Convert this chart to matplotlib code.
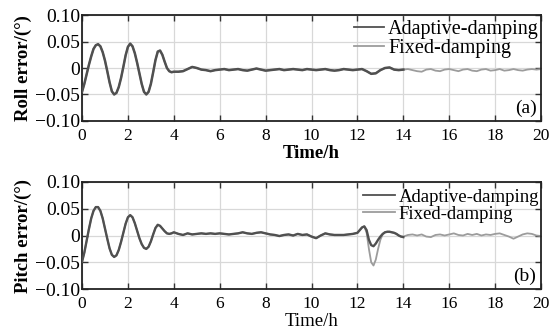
import numpy as np
import matplotlib
matplotlib.use("Agg")
import matplotlib.pyplot as plt

plt.rcParams['font.family'] = ['Liberation Serif', 'DejaVu Serif']

# ---------------- data ----------------
# Roll error, transient part (0-4 h, step 0.1 h)
roll_t1 = [round(0.1 * i, 1) for i in range(41)]
roll_v1 = [-0.045, -0.030, -0.012, 0.006, 0.022, 0.036, 0.043, 0.045, 0.041, 0.030,
           0.014, -0.006, -0.027, -0.044, -0.050, -0.047, -0.036, -0.019, 0.002, 0.024,
           0.040, 0.046, 0.041, 0.028, 0.010, -0.010, -0.030, -0.045, -0.050, -0.045,
           -0.030, -0.008, 0.015, 0.031, 0.033, 0.025, 0.012, 0.000, -0.006, -0.008,
           -0.007]
# Roll error, adaptive-damping steady part (4.2-14 h, step 0.2 h)
roll_t2 = [round(4.2 + 0.2 * i, 1) for i in range(50)]
roll_v2 = [-0.007, -0.006, -0.002, 0.002, 0.000, -0.003, -0.004, -0.006, -0.004, -0.003,
           -0.002, -0.004, -0.003, -0.002, -0.004, -0.005, -0.003, -0.001, -0.003, -0.005,
           -0.004, -0.003, -0.002, -0.004, -0.003, -0.002, -0.003, -0.004, -0.002, -0.003,
           -0.004, -0.003, -0.002, -0.004, -0.005, -0.004, -0.002, -0.003, -0.004, -0.003,
           -0.002, -0.006, -0.011, -0.010, -0.004, 0.000, 0.001, -0.003, -0.004, -0.003]
# Roll error, fixed-damping after 14 h
roll_t3 = [round(14.2 + 0.2 * i, 1) for i in range(30)]
roll_v3 = [-0.002, -0.004, -0.006, -0.007, -0.003, -0.002, -0.005, -0.006, -0.003, -0.002,
           -0.004, -0.006, -0.003, -0.002, -0.005, -0.006, -0.003, -0.002, -0.005, -0.004,
           -0.002, -0.005, -0.004, -0.002, -0.004, -0.005, -0.003, -0.002, -0.003, -0.002]

# Pitch error, transient part (0-4 h, step 0.1 h)
pitch_t1 = [round(0.1 * i, 1) for i in range(41)]
pitch_v1 = [-0.049, -0.032, -0.010, 0.012, 0.032, 0.046, 0.053, 0.053, 0.046, 0.032,
            0.013, -0.006, -0.024, -0.036, -0.040, -0.037, -0.027, -0.012, 0.005, 0.022,
            0.034, 0.038, 0.034, 0.023, 0.009, -0.005, -0.016, -0.023, -0.025, -0.021,
            -0.011, 0.002, 0.014, 0.020, 0.018, 0.013, 0.008, 0.004, 0.003, 0.004,
            0.006]
# Pitch error, common steady part (4.2-11.8 h, step 0.2 h)
pitch_t2 = [round(4.2 + 0.2 * i, 1) for i in range(39)]
pitch_v2 = [0.003, 0.001, 0.004, 0.002, 0.003, 0.004, 0.003, 0.004, 0.003, 0.004,
            0.003, 0.002, 0.003, 0.004, 0.006, 0.004, 0.003, 0.005, 0.006, 0.004,
            0.002, 0.001, -0.001, 0.001, 0.002, 0.000, 0.003, 0.001, 0.002, -0.002,
            -0.005, 0.000, 0.004, 0.002, 0.001, 0.001, 0.001, 0.002, 0.003]
# Pitch error around the disturbance (12-14 h, step 0.1 h)
pitch_t3 = [round(12.0 + 0.1 * i, 1) for i in range(21)]
pitch_adaptive_v3 = [0.005, 0.010, 0.015, 0.017, 0.010, -0.008, -0.018, -0.020, -0.015, -0.008,
                     -0.002, 0.003, 0.006, 0.007, 0.007, 0.006, 0.005, 0.003, 0.000, -0.002,
                     -0.003]
pitch_fixed_v3 = [0.005, 0.010, 0.015, 0.017, 0.005, -0.025, -0.050, -0.056, -0.045, -0.025,
                  -0.008, 0.002, 0.006, 0.007, 0.007, 0.006, 0.005, 0.003, 0.000, -0.002,
                  -0.002]
# Pitch error, fixed-damping after 14 h
pitch_t4 = [round(14.2 + 0.2 * i, 1) for i in range(30)]
pitch_v4 = [0.001, 0.002, 0.000, 0.002, -0.002, -0.003, 0.001, 0.002, 0.000, 0.002,
            0.004, 0.001, 0.000, 0.003, 0.001, 0.003, 0.000, 0.002, 0.001, 0.003,
            0.004, 0.001, -0.002, -0.006, -0.002, 0.002, 0.004, 0.003, 0.000, -0.001]

xticks = [0, 2, 4, 6, 8, 10, 12, 14, 16, 18, 20]
yticks = [-0.10, -0.05, 0, 0.05, 0.10]
ytick_labels = ['\u22120.10', '\u22120.05', '0', '0.05', '0.10']

# assemble series
roll_adaptive_t = roll_t1 + roll_t2
roll_adaptive_v = roll_v1 + roll_v2
roll_fixed_t = roll_t1 + roll_t2 + roll_t3
roll_fixed_v = roll_v1 + roll_v2 + roll_v3

pitch_adaptive_t = pitch_t1 + pitch_t2 + pitch_t3
pitch_adaptive_v = pitch_v1 + pitch_v2 + pitch_adaptive_v3
pitch_fixed_t = pitch_t1 + pitch_t2 + pitch_t3 + pitch_t4
pitch_fixed_v = pitch_v1 + pitch_v2 + pitch_fixed_v3 + pitch_v4

# ---------------- plot ----------------
fig = plt.figure(figsize=(5.58, 3.35), dpi=100)
ax1 = fig.add_axes([0.147, 0.639, 0.8226, 0.316])
ax2 = fig.add_axes([0.147, 0.137, 0.8226, 0.320])

C_ADAPT = '#505050'
C_FIXED = '#9c9c9c'


def style(ax, ylabel, tag, legend_size, legend_anchor, hlen, xlabel_weight):
    ax.set_xlim(0, 20)
    ax.set_ylim(-0.10, 0.10)
    ax.set_xticks(xticks)
    ax.set_xticklabels([str(x) for x in xticks], fontsize=12.5)
    ax.set_yticks(yticks)
    ax.set_yticklabels(ytick_labels, fontsize=14)
    ax.grid(True, color='#d8d8d8', linewidth=0.9)
    ax.set_axisbelow(True)
    ax.tick_params(direction='in', top=True, right=True, length=4, width=1.0,
                   color='#333333')
    ax.tick_params(axis='x', pad=5)
    ax.tick_params(axis='y', pad=1.5)
    for s in ax.spines.values():
        s.set_linewidth(1.3)
        s.set_color('#222222')
    ax.set_xlabel('Time/h', fontsize=13.5, fontweight=xlabel_weight, labelpad=1)
    ax.set_ylabel(ylabel, fontsize=13.5, fontweight='bold', labelpad=2)
    ax.text(0.99, 0.035, tag, transform=ax.transAxes, ha='right', va='bottom',
            fontsize=14)
    leg = ax.legend(loc='upper right', bbox_to_anchor=legend_anchor, frameon=False,
                    fontsize=legend_size, handlelength=hlen, handletextpad=0.2,
                    labelspacing=0.0, borderpad=0.1, borderaxespad=0.0)
    return leg


ax1.plot(roll_fixed_t, roll_fixed_v, color=C_FIXED, lw=1.3, zorder=2)
ax1.plot(roll_adaptive_t, roll_adaptive_v, color=C_ADAPT, lw=1.8, zorder=3)
ax1.plot([], [], color=C_ADAPT, lw=1.3, label='Adaptive-damping')
ax1.plot([], [], color=C_FIXED, lw=1.3, label='Fixed-damping')
style(ax1, 'Roll error/(\u00b0)', '(a)', 14.5, (1.0, 0.975), 1.5, 'bold')

ax2.plot(pitch_fixed_t, pitch_fixed_v, color=C_FIXED, lw=1.3, zorder=2)
ax2.plot(pitch_adaptive_t, pitch_adaptive_v, color=C_ADAPT, lw=1.7, zorder=3)
ax2.plot([], [], color=C_ADAPT, lw=1.3, label='Adaptive-damping')
ax2.plot([], [], color=C_FIXED, lw=1.3, label='Fixed-damping')
style(ax2, 'Pitch error/(\u00b0)', '(b)', 13.5, (1.0, 0.955), 1.7, 'normal')

fig.savefig('out.png', dpi=100)
